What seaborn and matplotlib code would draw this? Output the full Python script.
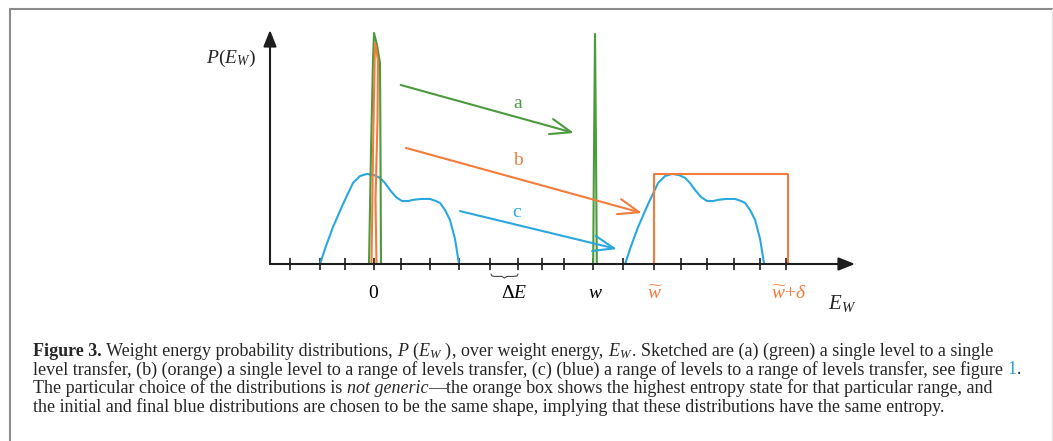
import numpy as np
import matplotlib
matplotlib.use("Agg")
import matplotlib.pyplot as plt
from matplotlib.lines import Line2D
import seaborn as sns

# ---------------- data (x in level-spacing units, y in relative probability) ----------------
tick_positions = [-2.897, -1.862, -1.010, 0.0, 0.931, 1.931, 2.948, 4.0, 4.976, 5.783,
                  6.562, 7.562, 8.597, 9.645, 10.586, 11.493, 12.414, 13.310, 14.207]

blue_shape_x = [-1.862, -1.655, -1.414, -1.069, -0.724, -0.483, -0.241, 0.0, 0.207, 0.379,
                0.552, 0.759, 0.966, 1.172, 1.345, 1.621, 1.931, 2.138, 2.276, 2.448,
                2.621, 2.793, 2.931]
blue_shape_y = [0.0, 0.077, 0.158, 0.256, 0.346, 0.376, 0.385, 0.380, 0.368, 0.346,
                0.316, 0.286, 0.269, 0.269, 0.274, 0.278, 0.278, 0.269, 0.261, 0.231,
                0.188, 0.107, 0.0]
blue_shift = 10.52            # final blue distribution: same shape, shifted

green_start_x = [-0.172, -0.103, -0.034, 0.0, 0.103, 0.207, 0.224, 0.241]
green_start_y = [0.0, 0.487, 0.872, 0.987, 0.936, 0.859, 0.487, 0.0]
green_end_x = [7.559, 7.586, 7.621, 7.655, 7.683]
green_end_y = [0.0, 0.487, 0.983, 0.487, 0.0]

orange_start_x = [-0.086, -0.034, 0.034, 0.138, 0.121, 0.052, 0.086]
orange_start_y = [0.0, 0.487, 0.945, 0.872, 0.615, 0.274, 0.0]
orange_box_x = [9.645, 9.645, 14.259, 14.259]
orange_box_y = [0.0, 0.385, 0.385, 0.0]

arrow_names = ["a", "b", "c"]
arrow_start = [(0.921, 0.765), (1.103, 0.496), (2.966, 0.226)]
arrow_end = [(6.897, 0.560), (9.241, 0.218), (8.379, 0.064)]
arrow_label_pos = [(4.966, 0.688), (4.966, 0.444), (4.931, 0.218)]

brace_x = [4.034, 4.069, 4.172, 4.414, 4.500, 4.586, 4.828, 4.931, 4.966]
brace_y = [-0.043, -0.051, -0.053, -0.053, -0.060, -0.053, -0.053, -0.051, -0.043]

axis_labels = ["$0$", r"$\Delta E$", "$w$", r"$\widetilde{w}$", r"$\widetilde{w}\!+\!\delta$"]
axis_label_x = [0.0, 4.83, 7.62, 9.70, 14.31]
axis_label_colors = ["black", "black", "black", "orange", "orange"]

caption_lines = [
    [("Figure 3.", {"fontweight": "bold"}), (" Weight energy probability distributions, ", {}),
     (r"$P\ (E_W\ )$", {}), (", over weight energy, ", {}), (r"$E_W$", {}),
     (". Sketched are (a) (green) a single level to a single", {})],
    [("level transfer, (b) (orange) a single level to a range of levels transfer, (c) (blue) a range of levels to a range of levels transfer, see figure ", {}),
     ("1", {"color": "#2a9fd6"}), (".", {})],
    [("The particular choice of the distributions is ", {}), ("not generic", {"style": "italic"}),
     ("\u2014the orange box shows the highest entropy state for that particular range, and", {})],
    [("the initial and final blue distributions are chosen to be the same shape, implying that these distributions have the same entropy.", {})],
]

# ---------------- style ----------------
GREEN = "#4c9a3e"
ORANGE = "#f47b3a"
BLUE = "#2aa7df"
AX = "#1e1e1e"

sns.set_theme(style="white")
plt.rcParams["font.family"] = ["Liberation Serif", "DejaVu Serif"]
plt.rcParams["mathtext.fontset"] = "custom"
plt.rcParams["mathtext.rm"] = "Liberation Serif"
plt.rcParams["mathtext.it"] = "Liberation Serif:italic"
plt.rcParams["mathtext.bf"] = "Liberation Serif:bold"
plt.rcParams["mathtext.fallback"] = "stix"

W, H = 1053, 441
fig = plt.figure(figsize=(W / 100, H / 100), dpi=100)
fig.patch.set_facecolor("white")

# frame of the figure panel
fig.add_artist(Line2D([10 / W, 10 / W], [0, 1 - 8.5 / H], color="#8c8c8c", lw=1.5))
fig.add_artist(Line2D([10 / W, 1], [1 - 8.5 / H, 1 - 8.5 / H], color="#8c8c8c", lw=1.5))
fig.add_artist(Line2D([1051.5 / W, 1051.5 / W], [0, 1 - 8.5 / H], color="#e6e6e6", lw=1.0))

# axes
x0px, x1px, ybot, ytop = 270, 855, 264, 30
px_per_unit = 29.0
ax = fig.add_axes([x0px / W, 1 - ybot / H, (x1px - x0px) / W, (ybot - ytop) / H])
ax.set_xlim((x0px - 374) / px_per_unit, (x1px - 374) / px_per_unit)
ax.set_ylim(0, 1)
ax.patch.set_alpha(0)
for s in ax.spines.values():
    s.set_visible(False)
xl, xr = ax.get_xlim()

# axis arrows
head = dict(arrowstyle="-|>,head_length=0.55,head_width=0.22", color=AX, lw=1.5,
            shrinkA=0, shrinkB=0, mutation_scale=18)
ax.annotate("", xy=(xr, 0), xytext=(xl, 0), arrowprops=head, annotation_clip=False)
ax.annotate("", xy=(xl, 1.0), xytext=(xl, 0), arrowprops=head, annotation_clip=False)

ax.set_xticks(tick_positions)
ax.set_xticklabels([])
ax.set_yticks([])
ax.tick_params(axis="x", direction="inout", length=8.5, width=1.2, color=AX, bottom=True)

lw = 1.5
# blue distributions (initial and final, same shape)
sns.lineplot(x=blue_shape_x, y=blue_shape_y, sort=False, estimator=None, color=BLUE, lw=lw, ax=ax)
sns.lineplot(x=np.array(blue_shape_x) + blue_shift, y=blue_shape_y, sort=False, estimator=None,
             color=BLUE, lw=lw, ax=ax)
# green spikes
sns.lineplot(x=green_start_x, y=green_start_y, sort=False, estimator=None, color=GREEN, lw=lw, ax=ax)
sns.lineplot(x=green_end_x, y=green_end_y, sort=False, estimator=None, color=GREEN, lw=lw, ax=ax)
# orange spike and box
sns.lineplot(x=orange_start_x, y=orange_start_y, sort=False, estimator=None, color=ORANGE, lw=lw, ax=ax)
sns.lineplot(x=orange_box_x, y=orange_box_y, sort=False, estimator=None, color=ORANGE, lw=lw, ax=ax)

# transfer arrows
for name, s, e, lp, c in zip(arrow_names, arrow_start, arrow_end, arrow_label_pos, [GREEN, ORANGE, BLUE]):
    ax.annotate("", xy=e, xytext=s,
                arrowprops=dict(arrowstyle="->,head_length=0.75,head_width=0.28", color=c, lw=1.5,
                                shrinkA=0, shrinkB=0, mutation_scale=20),
                annotation_clip=False)
    ax.text(lp[0], lp[1], name, color=c, fontsize=14, ha="center", va="center")

# brace for Delta E
ax.plot(brace_x, brace_y, color="#444444", lw=0.8, clip_on=False)

# axis labels
for lab, x, c in zip(axis_labels, axis_label_x, axis_label_colors):
    ax.text(x, -0.128, lab, color=(ORANGE if c == "orange" else "black"), fontsize=14,
            ha="center", va="center", clip_on=False)
ax.text((842 - 374) / px_per_unit, -0.167, "$E_W$", fontsize=15, ha="center", va="center", clip_on=False)
ax.text((231 - 374) / px_per_unit, 0.88, "$P(E_W)$", fontsize=14, ha="center", va="center", clip_on=False)

# ---------------- caption ----------------
renderer = fig.canvas.get_renderer()


def piece_width(txt, size, kw):
    a = fig.text(0, 0, "x" + txt + "x", fontsize=size, **kw)
    b = fig.text(0, 0, "xx", fontsize=size, **kw)
    w = a.get_window_extent(renderer).width - b.get_window_extent(renderer).width
    a.remove(); b.remove()
    return w


def line_width(pieces, size):
    return sum(piece_width(t, size, kw) for t, kw in pieces)


ref_size = 10.0
left = 33.0
targets = [1000, 1020, 1015, 988]
size = min(ref_size * (t - left) / line_width(p, ref_size) for p, t in zip(caption_lines, targets))

baselines = [356, 374.5, 393, 411.5]
for pieces, yb in zip(caption_lines, baselines):
    x = left
    for txt, kw in pieces:
        fig.text(x / W, 1 - yb / H, txt, fontsize=size, ha="left", va="baseline", **kw)
        x += piece_width(txt, size, kw)

fig.savefig("out.png", dpi=100, facecolor="white")
